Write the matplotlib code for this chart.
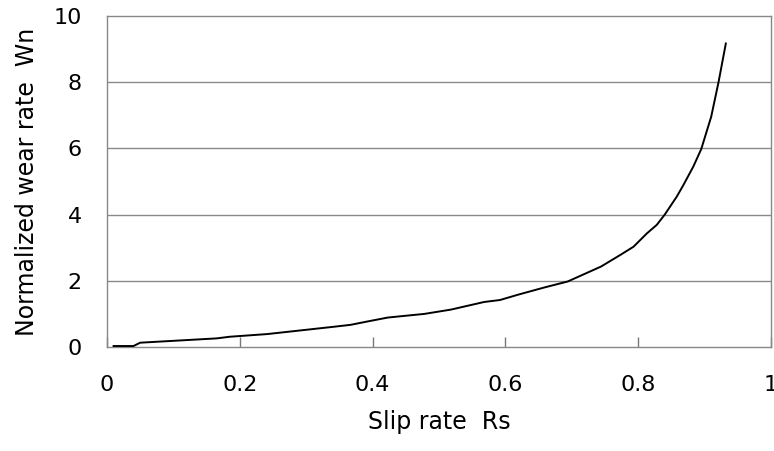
import matplotlib
matplotlib.use("Agg")
import matplotlib.pyplot as plt

slip_rate = [0.01, 0.04, 0.05, 0.165, 0.185, 0.241, 0.341, 0.367, 0.392, 0.423,
             0.478, 0.518, 0.568, 0.592, 0.619, 0.659, 0.694, 0.744, 0.773, 0.793,
             0.813, 0.828, 0.840, 0.858, 0.868, 0.883, 0.895, 0.910, 0.921, 0.932]
wear_rate = [0.03, 0.03, 0.13, 0.26, 0.31, 0.39, 0.61, 0.67, 0.77, 0.89,
             1.00, 1.13, 1.36, 1.42, 1.58, 1.80, 1.98, 2.43, 2.78, 3.03,
             3.43, 3.69, 4.00, 4.54, 4.89, 5.45, 5.98, 6.96, 8.00, 9.17]
x_ticks = [0, 0.2, 0.4, 0.6, 0.8, 1]
x_tick_labels = ["0", "0.2", "0.4", "0.6", "0.8", "1"]
y_ticks = [0, 2, 4, 6, 8, 10]
y_tick_labels = ["0", "2", "4", "6", "8", "10"]

plt.rcParams['font.family'] = ['DejaVu Sans']

fig = plt.figure(figsize=(7.74, 4.51), dpi=100)
ax = fig.add_axes([0.1382, 0.2306, 0.8579, 0.7339])

for yv in y_ticks[1:-1]:
    ax.axhline(yv, color='#8a8a8a', lw=1.0, zorder=1)

ax.plot(slip_rate, wear_rate, color='black', lw=1.4, zorder=3)

ax.set_xlim(0, 1)
ax.set_ylim(0, 10)
ax.set_xticks(x_ticks)
ax.set_xticklabels(x_tick_labels, fontsize=16)
ax.set_yticks(y_ticks)
ax.set_yticklabels(y_tick_labels, fontsize=16)
ax.tick_params(axis='x', direction='in', length=7, width=1, color='#777777', pad=20)
ax.tick_params(axis='y', length=0, pad=18)

for s in ax.spines.values():
    s.set_color('#888888')
    s.set_linewidth(1.0)

ax.set_xlabel("Slip rate  Rs", fontsize=17)
ax.set_ylabel("Normalized wear rate  Wn", fontsize=17)
ax.xaxis.set_label_coords(0.5, -0.19)
ax.yaxis.set_label_coords(-0.102, 0.5)

fig.savefig("out.png", dpi=100)
